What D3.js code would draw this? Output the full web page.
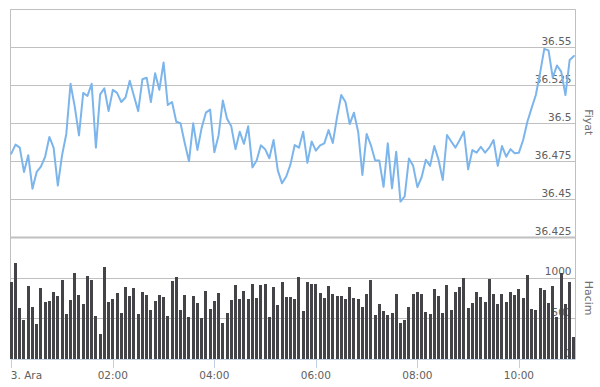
<!DOCTYPE html>
<html>
<head>
<meta charset="utf-8">
<script src="https://cdn.jsdelivr.net/npm/d3@7"></script>
<style>
  html, body { margin: 0; padding: 0; background: #fff; }
  svg { display: block; }
  text { font-family: "DejaVu Sans", sans-serif; }
</style>
</head>
<body>
<svg id="chart" width="600" height="387"></svg>
<script>
// ---- data ----
const startTime = "2014-12-03T00:00:00";
const stepMinutes = 5;
const price = [
  36.480, 36.486, 36.484, 36.468, 36.479, 36.457, 36.468, 36.4715, 36.478, 36.491,
  36.484, 36.459, 36.479, 36.493, 36.526, 36.511, 36.492, 36.520, 36.518, 36.526,
  36.484, 36.519, 36.523, 36.508, 36.522, 36.520, 36.514, 36.517, 36.528, 36.518,
  36.508, 36.529, 36.530, 36.514, 36.533, 36.522, 36.540, 36.512, 36.514, 36.501,
  36.500, 36.487, 36.475, 36.500, 36.4825, 36.497, 36.507, 36.509, 36.481, 36.492,
  36.515, 36.503, 36.498, 36.483, 36.4945, 36.4865, 36.498, 36.471, 36.4755, 36.4855,
  36.483, 36.477, 36.489, 36.469, 36.4605, 36.465, 36.473, 36.4857, 36.484, 36.4945,
  36.474, 36.488, 36.482, 36.4855, 36.4868, 36.4955, 36.487, 36.504, 36.5186, 36.514,
  36.4995, 36.507, 36.4945, 36.466, 36.493, 36.4857, 36.4757, 36.4755, 36.4582, 36.4868,
  36.4572, 36.4813, 36.4485, 36.452, 36.4768, 36.472, 36.458, 36.4645, 36.476, 36.472,
  36.485, 36.476, 36.4627, 36.4923, 36.488, 36.484, 36.489, 36.4945, 36.4697, 36.4824,
  36.4807, 36.4846, 36.4807, 36.484, 36.489, 36.472, 36.485, 36.478, 36.483, 36.4803,
  36.4807, 36.489, 36.501, 36.510, 36.5186, 36.533, 36.549, 36.548, 36.530, 36.538,
  36.534, 36.5186, 36.5417, 36.5443
];
const volume = [
  947, 1184, 633, 486, 902, 645, 437, 878, 706, 718,
  824, 776, 976, 559, 731, 1061, 792, 682, 1024, 976,
  535, 314, 1135, 698, 743, 816, 571, 886, 780, 873,
  559, 829, 792, 608, 710, 792, 763, 535, 963, 1012,
  608, 792, 522, 780, 694, 510, 841, 620, 718, 816,
  449, 571, 731, 914, 743, 841, 743, 927, 755, 914,
  927, 522, 890, 669, 951, 767, 767, 743, 1012, 596,
  951, 927, 927, 816, 755, 902, 804, 780, 780, 743,
  890, 755, 743, 645, 804, 976, 547, 682, 596, 547,
  571, 804, 449, 486, 645, 804, 829, 804, 584, 559,
  865, 780, 571, 914, 608, 829, 890, 1000, 633, 694,
  829, 767, 706, 988, 804, 682, 804, 706, 829, 792,
  865, 755, 1037, 620, 608, 878, 853, 694, 902, 522,
  1065, 682, 951, 265
];
const priceTicks = [36.425, 36.45, 36.475, 36.5, 36.525, 36.55, 36.575];
const priceTickLabels = ["36.425", "36.45", "36.475", "36.5", "36.525", "36.55", ""];
const volumeTicks = [0, 500, 1000];
const volumeTickLabels = ["0", "500", "1000"];
const xTickHours = [0, 2, 4, 6, 8, 10];
const xTickLabels = ["3. Ara", "02:00", "04:00", "06:00", "08:00", "10:00"];
const priceTitle = "Fiyat";
const volumeTitle = "Hacim";

// ---- build ----
const t0 = new Date(startTime);
const times = price.map((_, i) => d3.timeMinute.offset(t0, i * stepMinutes));
const rows = times.map((t, i) => ({ t, p: price[i], v: volume[i] }));

const svg = d3.select("#chart");
const plotLeft = 10.5, plotRight = 575.5;
const priceTop = 9.3, priceBottom = 237.3;
const volTop = 237.3, volBottom = 359;

const x = d3.scaleTime()
  .domain([times[0], times[times.length - 1]])
  .range([11.3, 573.9]);
const yP = d3.scaleLinear().domain([36.425, 36.575]).range([priceBottom, priceTop]);
const yV = d3.scaleLinear().domain([0, 1500]).range([volBottom, volTop]);

const grid = "#c0c0c0";
const labelColor = "#606060";

// gridlines price
svg.append("g").selectAll("line").data(priceTicks).join("line")
  .attr("x1", plotLeft).attr("x2", plotRight)
  .attr("y1", d => Math.round(yP(d)) + 0.5).attr("y2", d => Math.round(yP(d)) + 0.5)
  .attr("stroke", grid).attr("stroke-width", 1);
// thicker separator
svg.append("line")
  .attr("x1", plotLeft).attr("x2", plotRight)
  .attr("y1", Math.round(yP(36.425)) + 0.5).attr("y2", Math.round(yP(36.425)) + 0.5)
  .attr("stroke", grid).attr("stroke-width", 2);
// gridlines volume
svg.append("g").selectAll("line").data(volumeTicks.filter(d => d > 0)).join("line")
  .attr("x1", plotLeft).attr("x2", plotRight)
  .attr("y1", d => Math.round(yV(d)) + 0.5).attr("y2", d => Math.round(yV(d)) + 0.5)
  .attr("stroke", grid).attr("stroke-width", 1);
// left / right frame lines
svg.append("line").attr("x1", plotLeft).attr("x2", plotLeft)
  .attr("y1", priceTop).attr("y2", volBottom).attr("stroke", grid);
svg.append("line").attr("x1", plotRight).attr("x2", plotRight)
  .attr("y1", priceTop).attr("y2", volBottom).attr("stroke", grid);

// price labels
svg.append("g").selectAll("text").data(priceTicks).join("text")
  .attr("x", 571.5).attr("y", d => yP(d) - 2.5)
  .attr("text-anchor", "end").attr("font-size", "10.5px").attr("fill", labelColor)
  .text((d, i) => priceTickLabels[i]);
// volume labels
svg.append("g").selectAll("text").data(volumeTicks).join("text")
  .attr("x", 571.5).attr("y", d => yV(d) - 2.5)
  .attr("text-anchor", "end").attr("font-size", "10.5px").attr("fill", labelColor)
  .text((d, i) => volumeTickLabels[i]);

// axis titles
svg.append("text").attr("transform", `translate(588,${(priceTop + priceBottom) / 2 - 1}) rotate(90)`)
  .attr("text-anchor", "middle").attr("dominant-baseline", "central")
  .attr("font-size", "11px").attr("fill", "#707070").text(priceTitle);
svg.append("text").attr("transform", `translate(588,${(volTop + volBottom) / 2}) rotate(90)`)
  .attr("text-anchor", "middle").attr("dominant-baseline", "central")
  .attr("font-size", "11px").attr("fill", "#707070").text(volumeTitle);

// volume bars
svg.append("g").attr("shape-rendering", "crispEdges").selectAll("rect").data(rows).join("rect")
  .attr("x", d => Math.round(x(d.t) - 1.5))
  .attr("width", 3)
  .attr("y", d => yV(d.v))
  .attr("height", d => yV(0) - yV(d.v))
  .attr("fill", "#434348");

// price line
svg.append("path").datum(rows)
  .attr("d", d3.line().x(d => x(d.t)).y(d => yP(d.p)))
  .attr("fill", "none").attr("stroke", "#7cb5ec").attr("stroke-width", 2)
  .attr("stroke-linejoin", "round").attr("stroke-linecap", "round");

// x axis
const ax = svg.append("g");
ax.append("line").attr("x1", plotLeft).attr("x2", plotRight)
  .attr("y1", volBottom + 0.5).attr("y2", volBottom + 0.5).attr("stroke", "#c0d0e0");
const xTicks = xTickHours.map(h => d3.timeHour.offset(t0, h));
ax.selectAll("line.tick").data(xTicks).join("line").attr("class", "tick")
  .attr("x1", d => Math.round(x(d)) + 0.5).attr("x2", d => Math.round(x(d)) + 0.5)
  .attr("y1", volBottom).attr("y2", volBottom + 9).attr("stroke", "#c0d0e0");
ax.selectAll("text").data(xTicks).join("text")
  .attr("x", (d, i) => i === 0 ? x(d) - 0.5 : x(d))
  .attr("y", 379)
  .attr("text-anchor", (d, i) => i === 0 ? "start" : "middle")
  .attr("font-size", "10.5px").attr("fill", labelColor)
  .text((d, i) => xTickLabels[i]);
</script>
</body>
</html>
